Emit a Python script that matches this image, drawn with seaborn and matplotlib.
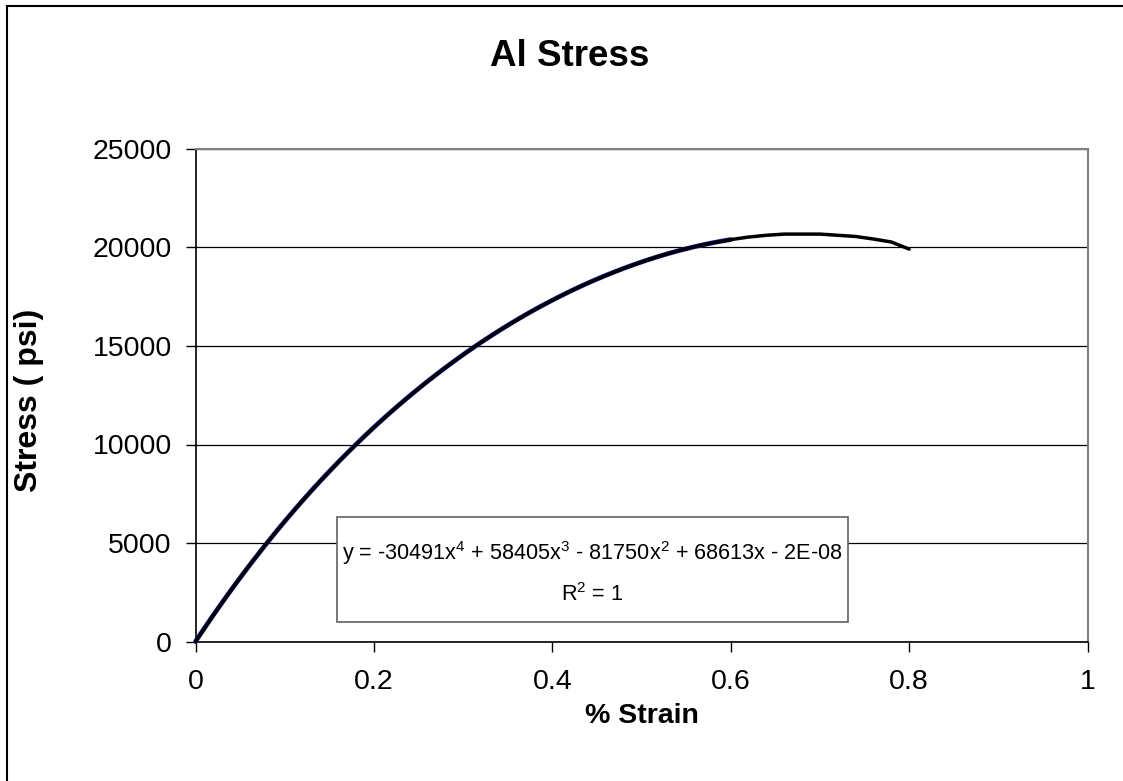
import matplotlib
matplotlib.use("Agg")
import matplotlib.pyplot as plt
import seaborn as sns
import pandas as pd
from matplotlib.patches import Rectangle
from matplotlib import font_manager

# ---- data ----
strain = [0.00, 0.02, 0.04, 0.06, 0.08, 0.10, 0.12, 0.14, 0.16, 0.18,
          0.20, 0.22, 0.24, 0.26, 0.28, 0.30, 0.32, 0.34, 0.36, 0.38,
          0.40, 0.42, 0.44, 0.46, 0.48, 0.50, 0.52, 0.54, 0.56, 0.58,
          0.60, 0.62, 0.64, 0.66, 0.68, 0.70, 0.72, 0.74, 0.76, 0.78, 0.80]
stress = [0, 1340, 2620, 3840, 4990, 6100, 7150, 8150, 9100, 10010,
          10870, 11690, 12460, 13200, 13900, 14560, 15180, 15770, 16320, 16840,
          17320, 17780, 18200, 18580, 18940, 19260, 19560, 19820, 20050, 20240,
          20400, 20530, 20620, 20680, 20680, 20680, 20620, 20560, 20430, 20280, 19920]
trend_max_strain = 0.60

title = "Al Stress"
x_label = "% Strain"
y_label = "Stress ( psi)"
x_ticks = [0, 0.2, 0.4, 0.6, 0.8, 1]
x_tick_labels = ["0", "0.2", "0.4", "0.6", "0.8", "1"]
y_ticks = [0, 5000, 10000, 15000, 20000, 25000]
y_tick_labels = ["0", "5000", "10000", "15000", "20000", "25000"]
equation = "y = -30491x$^4$ + 58405x$^3$ - 81750x$^2$ + 68613x - 2E-08"
r2_text = "R$^2$ = 1"

df = pd.DataFrame({"strain": strain, "stress": stress})
df_trend = df[df["strain"] <= trend_max_strain]

sns.set_style("white")
plt.rcParams["font.family"] = ["Liberation Sans", "DejaVu Sans"]
for k in ["text.color", "axes.labelcolor", "xtick.color", "ytick.color"]:
    plt.rcParams[k] = "black"

# condensed face for the trendline label, if available
try:
    font_manager.findfont("Liberation Sans Narrow", fallback_to_default=False)
    eq_family, eq_size = "Liberation Sans Narrow", 19
except Exception:
    eq_family, eq_size = "Liberation Sans", 15.6
plt.rcParams["mathtext.fontset"] = "custom"
plt.rcParams["mathtext.rm"] = eq_family

W, H = 1123, 781
fig = plt.figure(figsize=(W / 100, H / 100), dpi=100)
fig.patch.set_facecolor("white")

# outer chart border
fig.patches.append(Rectangle((7 / W, -0.2), 1.3, 1 - 6 / H + 0.2,
                             transform=fig.transFigure, fill=False,
                             ec="black", lw=1.5))

left, right, top, bottom = 195.5, 1087.5, 149, 641.5
ax = fig.add_axes([left / W, 1 - bottom / H, (right - left) / W, (bottom - top) / H])

# polynomial trendline (blue) under the data line
sns.regplot(data=df_trend, x="strain", y="stress", order=4, ci=None,
            scatter=False, truncate=True, ax=ax,
            line_kws=dict(color="#1a1aa0", lw=3.4, clip_on=False, zorder=3))
sns.lineplot(data=df, x="strain", y="stress", ax=ax, color="black",
             lw=2.5, clip_on=False, zorder=4)

ax.set_xlim(0, 1)
ax.set_ylim(0, 25000)
ax.set_xticks(x_ticks)
ax.set_xticklabels(x_tick_labels)
ax.set_yticks(y_ticks)
ax.set_yticklabels(y_tick_labels)
ax.tick_params(axis="both", direction="out", length=7, width=1, color="black",
               labelsize=20.5, pad=10, left=True, bottom=True)
ax.tick_params(axis="x", pad=13)

ax.yaxis.grid(True, color="black", lw=0.9)
ax.xaxis.grid(False)
ax.set_axisbelow(True)
for s in ["left", "bottom"]:
    ax.spines[s].set_color("black")
    ax.spines[s].set_linewidth(1.2)
for s in ["top", "right"]:
    ax.spines[s].set_color("#808080")
    ax.spines[s].set_linewidth(1.5)

ax.set_xlabel(x_label, fontsize=20.5, fontweight="bold")
ax.set_ylabel(y_label, fontsize=23, fontweight="bold")
ax.xaxis.label.set_va("center")
ax.yaxis.label.set_va("center")
ax.xaxis.set_label_coords((642 - left) / (right - left), -(716 - bottom) / (bottom - top))
ax.yaxis.set_label_coords(-(left - 29) / (right - left), (bottom - 400) / (bottom - top))

fig.text(570 / W, 1 - 57 / H, title, ha="center", va="center",
         fontsize=26.5, fontweight="bold")

# trendline equation box
bx0, by0, bx1, by1 = 337, 517, 848, 622
ax.add_patch(Rectangle((bx0 / W, 1 - by1 / H), (bx1 - bx0) / W, (by1 - by0) / H,
                       transform=fig.transFigure, fc="white", ec="#606060",
                       lw=1.2, zorder=5, clip_on=False))
ax.text((bx0 + bx1) / 2 / W, 1 - 553 / H, equation, ha="center", va="center",
        fontsize=eq_size, family=eq_family, transform=fig.transFigure, zorder=6)
ax.text((bx0 + bx1) / 2 / W, 1 - 595 / H, r2_text, ha="center", va="center",
        fontsize=eq_size, family=eq_family, transform=fig.transFigure, zorder=6)

fig.savefig("out.png", dpi=100)
